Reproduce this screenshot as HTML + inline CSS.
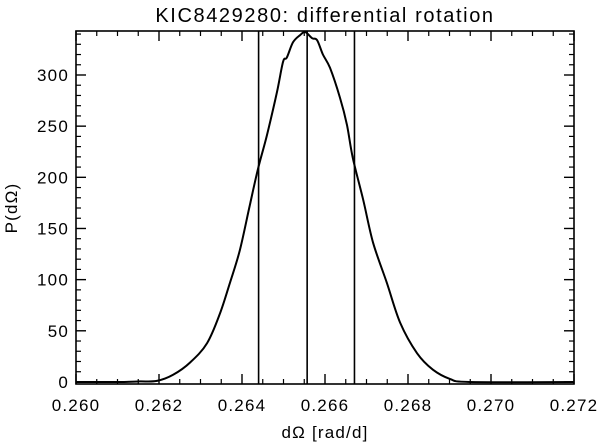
<!DOCTYPE html>
<html><head><meta charset="utf-8"><style>
html,body{margin:0;padding:0;background:#fff;}
svg text{font-family:"Liberation Sans","DejaVu Sans",sans-serif;fill:#000;}
</style></head><body>
<svg id="chart" width="600" height="443" xmlns="http://www.w3.org/2000/svg">
<text x="325" y="22" font-size="20" letter-spacing="1.6" text-anchor="middle">KIC8429280: differential rotation</text>
<text x="325" y="438" font-size="17" letter-spacing="1.2" text-anchor="middle">dΩ [rad/d]</text>
<text transform="translate(17,208) rotate(-90)" font-size="17" letter-spacing="1.2" text-anchor="middle">P(dΩ)</text>
<g id="marks"></g>
<rect x="76" y="31" width="498" height="353" fill="none" stroke="#000" stroke-width="1.6"/>
</svg>
<script>
const xTicks=[0.260,0.262,0.264,0.266,0.268,0.270,0.272];
const xTickLabels=["0.260","0.262","0.264","0.266","0.268","0.270","0.272"];
const yTicks=[0,50,100,150,200,250,300];
const yTickLabels=["0","50","100","150","200","250","300"];
const vlines=[0.26440,0.26557,0.26671];
const xs=[0.2600,0.26106,0.26154,0.26195,0.26234,0.26275,0.26316,0.26347,0.26371,0.26395,0.26419,0.26439,0.26460,0.26484,0.26499,0.26508,0.26523,0.26540,0.26552,0.26569,0.26581,0.26595,0.26612,0.26636,0.26653,0.26667,0.26692,0.26716,0.26749,0.26781,0.26822,0.26860,0.26901,0.26949,0.2720];
const ys=[0,0,0.5,1,7,19,38,67,97,129,173,209,241,283,313,317,332,339,342,336,334,320,307,278,251,219,178,136,97,58,28,12,3,0,0];
const X0=0.260,X1=0.272,Y0=-2,Y1=343,L=76,R=574,T=31,B=384;
const sx=v=>L+(v-X0)/(X1-X0)*(R-L);
const sy=v=>B-(v-Y0)/(Y1-Y0)*(B-T);
const NS="http://www.w3.org/2000/svg";
const g=document.getElementById('marks');
function mk(t,a){const e=document.createElementNS(NS,t);for(const k in a)e.setAttribute(k,a[k]);g.appendChild(e);return e;}
for(let i=0;i<xTicks.length;i++){
  const x=sx(xTicks[i]);
  const t=mk('line',{x1:x,x2:x,y1:B,y2:B-10,stroke:'#000','stroke-width':1.4});
  
  
  const t2=mk('line',{x1:x,x2:x,y1:T,y2:T+10,stroke:'#000','stroke-width':1.4});
  
  
  const lb=mk('text',{x:x,y:B+27,'font-size':17,'letter-spacing':1.2,'text-anchor':'middle'});
  lb.textContent=xTickLabels[i];
  
  
  if(i<xTicks.length-1){for(let k=1;k<4;k++){const xm=sx(xTicks[i]+k*0.0005);
    const m=mk('line',{x1:xm,x2:xm,y1:B,y2:B-5,stroke:'#000','stroke-width':1.2});
    
    
    const m2=mk('line',{x1:xm,x2:xm,y1:T,y2:T+5,stroke:'#000','stroke-width':1.2});
    
    }}
}
for(let i=0;i<yTicks.length;i++){
  const y=sy(yTicks[i]);
  const t=mk('line',{x1:L,x2:L+10,y1:y,y2:y,stroke:'#000','stroke-width':1.4});
  
  
  const t2=mk('line',{x1:R,x2:R-10,y1:y,y2:y,stroke:'#000','stroke-width':1.4});
  
  
  const lb=mk('text',{x:L-7,y:y+6,'font-size':17,'letter-spacing':1.2,'text-anchor':'end'});
  lb.textContent=yTickLabels[i];
  
  
}
for(let v=0;v<=Y1;v+=10){if(v%50===0)continue;const y=sy(v);
  const m=mk('line',{x1:L,x2:L+5,y1:y,y2:y,stroke:'#000','stroke-width':1.2});
  
  
  const m2=mk('line',{x1:R,x2:R-5,y1:y,y2:y,stroke:'#000','stroke-width':1.2});
  
  }
for(const v of vlines){const x=sx(v);
  const l=mk('line',{x1:x,x2:x,y1:T,y2:B,stroke:'#000','stroke-width':1.6});
  
  }
// smooth curve (Catmull-Rom -> cubic bezier)
const P=xs.map((v,i)=>[sx(v),sy(ys[i])]);
let d='M'+P[0][0].toFixed(1)+','+P[0][1].toFixed(1);
for(let i=0;i<P.length-1;i++){
  const p0=P[Math.max(0,i-1)],p1=P[i],p2=P[i+1],p3=P[Math.min(P.length-1,i+2)];
  const c1=[p1[0]+(p2[0]-p0[0])/6,p1[1]+(p2[1]-p0[1])/6];
  const c2=[p2[0]-(p3[0]-p1[0])/6,p2[1]-(p3[1]-p1[1])/6];
  d+='C'+c1[0].toFixed(1)+','+c1[1].toFixed(1)+' '+c2[0].toFixed(1)+','+c2[1].toFixed(1)+' '+p2[0].toFixed(1)+','+p2[1].toFixed(1);
}
const p=mk('path',{d:d,fill:'none',stroke:'#000','stroke-width':2,'stroke-linejoin':'round'});


</script>
</body></html>
